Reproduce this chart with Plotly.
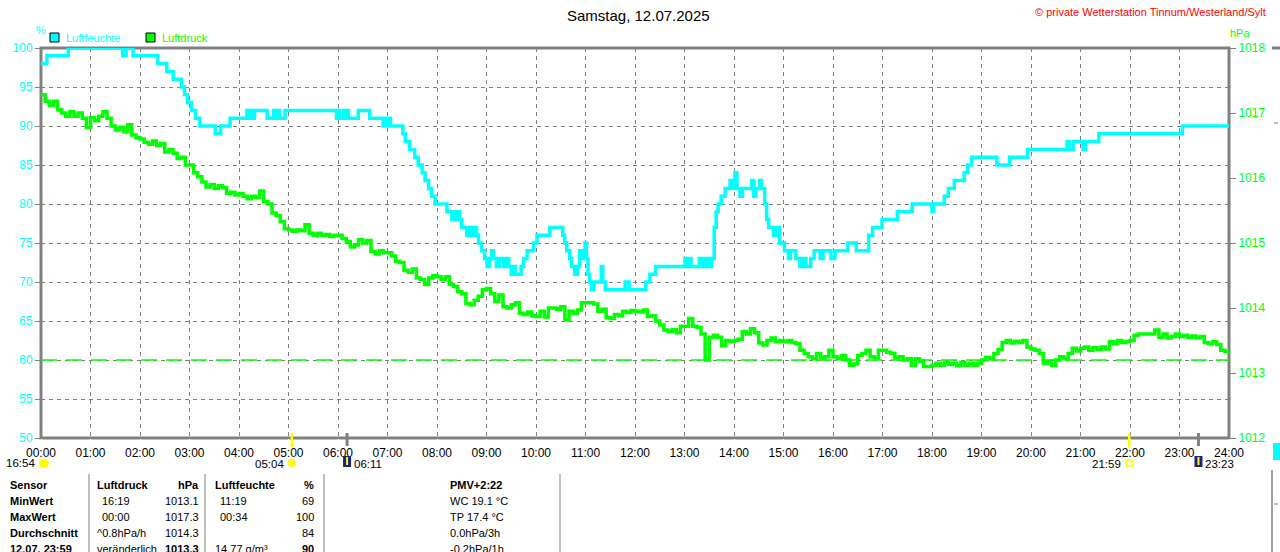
import plotly.graph_objects as go

# ---------------- data ----------------
hour_labels = ["00:00", "01:00", "02:00", "03:00", "04:00", "05:00", "06:00", "07:00",
               "08:00", "09:00", "10:00", "11:00", "12:00", "13:00", "14:00", "15:00",
               "16:00", "17:00", "18:00", "19:00", "20:00", "21:00", "22:00", "23:00", "24:00"]
hum_ticks = [50, 55, 60, 65, 70, 75, 80, 85, 90, 95, 100]
press_ticks = [1012, 1013, 1014, 1015, 1016, 1017, 1018]

# humidity (step changes): time in hours, value in %
hum_time = [0.00, 0.12, 0.55, 1.65, 1.68, 1.70, 1.72, 1.86, 2.36, 2.54, 2.67, 2.84, 2.90, 2.96,
            3.04, 3.12, 3.21, 3.52, 3.63, 3.82, 4.16, 4.19, 4.24, 4.27, 4.31, 4.57, 4.70, 4.73,
            4.79, 4.82, 4.93, 5.97, 6.00, 6.03, 6.11, 6.14, 6.16, 6.21, 6.41, 6.64, 6.91, 6.94,
            6.97, 7.02, 7.06, 7.31, 7.36, 7.45, 7.55, 7.62, 7.70, 7.76, 7.83, 7.89, 7.96, 8.20,
            8.30, 8.33, 8.38, 8.42, 8.46, 8.50, 8.60, 8.63, 8.70, 8.74, 8.80, 8.84, 8.90, 8.96,
            9.01, 9.06, 9.10, 9.14, 9.20, 9.26, 9.34, 9.40, 9.45, 9.50, 9.55, 9.58, 9.70, 9.75,
            9.82, 9.88, 9.95, 10.02, 10.28, 10.54, 10.58, 10.62, 10.68, 10.72, 10.78, 10.84,
            10.88, 10.92, 10.99, 11.02, 11.05, 11.08, 11.12, 11.17, 11.32, 11.35, 11.40, 11.80,
            11.88, 12.22, 12.30, 12.42, 13.01, 13.04, 13.10, 13.13, 13.30, 13.35, 13.42, 13.48,
            13.55, 13.60, 13.64, 13.68, 13.74, 13.82, 13.92, 13.97, 14.02, 14.06, 14.12, 14.17,
            14.36, 14.40, 14.44, 14.52, 14.55, 14.62, 14.66, 14.70, 14.80, 14.84, 14.92, 15.02,
            15.10, 15.14, 15.25, 15.33, 15.40, 15.45, 15.55, 15.62, 15.74, 15.80, 15.96, 16.04,
            16.30, 16.47, 16.72, 16.80, 16.99, 17.30, 17.60, 18.00, 18.03, 18.25, 18.33, 18.45,
            18.65, 18.72, 18.80, 19.31, 19.57, 19.93, 20.73, 20.77, 20.85, 21.05, 21.10, 21.37,
            23.06, 24.00]
hum_value = [98, 99, 100, 99, 100, 99, 100, 99, 98, 97, 96, 95, 94, 93,
             92, 91, 90, 89, 90, 91, 92, 91, 92, 91, 92, 91, 92, 91,
             92, 91, 92, 91, 92, 91, 92, 91, 92, 91, 92, 91, 90, 91,
             90, 91, 90, 89, 88, 87, 86, 85, 84, 83, 82, 81, 80, 79,
             78, 79, 78, 79, 78, 77, 76, 77, 76, 77, 76, 75, 74, 73,
             72, 73, 74, 73, 72, 73, 72, 73, 72, 71, 72, 71, 72, 73,
             74, 74, 75, 76, 77, 76, 75, 74, 73, 72, 71, 72,
             74, 73, 75, 73, 71, 70, 69, 70, 72, 70, 69, 70,
             69, 70, 71, 72, 73, 72, 73, 72, 73, 72, 73, 72,
             73, 77, 79, 80, 81, 82, 83, 82, 84, 82, 81, 82,
             83, 81, 82, 83, 82, 80, 78, 77, 76, 77, 75, 74,
             73, 74, 73, 72, 73, 72, 73, 74, 73, 74, 73, 74,
             75, 74, 76, 77, 78, 79, 80, 79, 80, 81, 82, 83,
             84, 85, 86, 85, 86, 87, 88, 87, 88, 87, 88, 89,
             90, 90]

# air pressure every 5 minutes (hPa), 00:00 .. 24:00
press_value = [
    1017.28, 1017.18, 1017.12, 1017.18, 1017.05, 1017.00, 1016.95, 1017.02, 1016.95, 1017.00, 1016.92, 1016.78,
    1016.93, 1016.88, 1016.95, 1017.02, 1016.92, 1016.80, 1016.74, 1016.78, 1016.71, 1016.82, 1016.66, 1016.62,
    1016.60, 1016.55, 1016.52, 1016.57, 1016.50, 1016.53, 1016.40, 1016.44, 1016.38, 1016.30, 1016.32, 1016.20,
    1016.20, 1016.08, 1016.02, 1015.94, 1015.86, 1015.90, 1015.84, 1015.88, 1015.85, 1015.76, 1015.78, 1015.74,
    1015.76, 1015.72, 1015.68, 1015.72, 1015.70, 1015.80, 1015.64, 1015.60, 1015.46, 1015.42, 1015.33, 1015.22,
    1015.20, 1015.18, 1015.20, 1015.19, 1015.28, 1015.15, 1015.12, 1015.15, 1015.12, 1015.13, 1015.10, 1015.12,
    1015.12, 1015.07, 1015.02, 1014.94, 1014.97, 1015.05, 1015.00, 1015.04, 1014.87, 1014.83, 1014.88, 1014.85,
    1014.85, 1014.80, 1014.72, 1014.70, 1014.58, 1014.55, 1014.60, 1014.46, 1014.44, 1014.36, 1014.46, 1014.50,
    1014.48, 1014.44, 1014.48, 1014.36, 1014.33, 1014.25, 1014.22, 1014.07, 1014.05, 1014.12, 1014.18, 1014.28,
    1014.30, 1014.22, 1014.10, 1014.20, 1014.02, 1014.00, 1014.05, 1014.08, 1013.92, 1013.90, 1013.94, 1013.88,
    1013.87, 1013.95, 1013.86, 1014.00, 1014.00, 1013.98, 1014.02, 1013.82, 1013.95, 1013.92, 1013.97, 1014.08,
    1014.08, 1014.08, 1014.06, 1013.95, 1013.98, 1013.85, 1013.84, 1013.90, 1013.88, 1013.95, 1013.93, 1013.96,
    1013.95, 1013.94, 1013.97, 1013.87, 1013.88, 1013.80, 1013.74, 1013.66, 1013.64, 1013.67, 1013.62, 1013.72,
    1013.72, 1013.84, 1013.72, 1013.70, 1013.60, 1013.20, 1013.55, 1013.58, 1013.55, 1013.42, 1013.50, 1013.48,
    1013.50, 1013.52, 1013.64, 1013.60, 1013.68, 1013.62, 1013.46, 1013.43, 1013.50, 1013.54, 1013.48, 1013.50,
    1013.48, 1013.50, 1013.47, 1013.45, 1013.35, 1013.30, 1013.25, 1013.22, 1013.30, 1013.23, 1013.25, 1013.35,
    1013.25, 1013.22, 1013.27, 1013.20, 1013.12, 1013.14, 1013.27, 1013.30, 1013.35, 1013.25, 1013.23, 1013.35,
    1013.35, 1013.32, 1013.30, 1013.23, 1013.25, 1013.20, 1013.22, 1013.12, 1013.22, 1013.18, 1013.10, 1013.10,
    1013.12, 1013.15, 1013.12, 1013.16, 1013.13, 1013.15, 1013.11, 1013.16, 1013.12, 1013.15, 1013.12, 1013.15,
    1013.20, 1013.24, 1013.22, 1013.30, 1013.36, 1013.47, 1013.50, 1013.46, 1013.49, 1013.47, 1013.50, 1013.40,
    1013.37, 1013.35, 1013.30, 1013.15, 1013.18, 1013.12, 1013.20, 1013.25, 1013.22, 1013.30, 1013.38, 1013.34,
    1013.38, 1013.40, 1013.35, 1013.39, 1013.36, 1013.40, 1013.37, 1013.48, 1013.45, 1013.50, 1013.47, 1013.48,
    1013.50, 1013.58, 1013.60, 1013.60, 1013.60, 1013.60, 1013.66, 1013.55, 1013.60, 1013.54, 1013.56, 1013.60,
    1013.56, 1013.58, 1013.55, 1013.57, 1013.54, 1013.56, 1013.47, 1013.45, 1013.48, 1013.44, 1013.35, 1013.33,
    1013.30]
press_time = [i * 5 / 60 for i in range(len(press_value))]
press_ref = 1013.2

# sun / moon events (hours)
events = [("16:54", 0.0), ("05:04", 5.0667), ("06:11", 6.1833), ("21:59", 21.9833), ("23:23", 23.3833)]

table_rows = [
    ["Sensor", "Luftdruck", "hPa", "Luftfeuchte", "%", "PMV+2:22"],
    ["MinWert", "16:19", "1013.1", "11:19", "69", "WC 19.1 °C"],
    ["MaxWert", "00:00", "1017.3", "00:34", "100", "TP 17.4 °C"],
    ["Durchschnitt", "^0.8hPa/h", "1014.3", "", "84", "0.0hPa/3h"],
    ["12.07. 23:59", "veränderlich", "1013.3", "14.77 g/m³", "90", "-0.2hPa/1h"],
]

# ---------------- layout helpers ----------------
W, H = 1280, 552
L, R, T, B = 41, 1229, 48, 438
CYAN = "#00ffff"
GREEN = "#00ff00"
GRAY = "#808080"
FONT = "Liberation Sans"


def pxx(px):
    return (px - L) / (R - L)


def pxy(py):
    return (B - py) / (B - T)


annotations = []
shapes = []


def text(t, px, py, color="black", size=12, bold=False, anchor="left"):
    if bold:
        t = "<b>" + t + "</b>"
    annotations.append(dict(text=t, x=pxx(px), y=pxy(py), xref="paper", yref="paper",
                            xanchor=anchor, yanchor="middle", showarrow=False,
                            font=dict(family=FONT, size=size, color=color)))


def line(x0, y0, x1, y1, color=GRAY, width=1):
    shapes.append(dict(type="line", xref="paper", yref="paper", x0=pxx(x0), y0=pxy(y0),
                       x1=pxx(x1), y1=pxy(y1), line=dict(color=color, width=width)))


def rect(x0, y0, x1, y1, fill, color=None, width=0):
    shapes.append(dict(type="rect", xref="paper", yref="paper", x0=pxx(x0), y0=pxy(y0),
                       x1=pxx(x1), y1=pxy(y1), fillcolor=fill,
                       line=dict(color=color or fill, width=width)))


fig = go.Figure()
fig.add_trace(go.Scatter(x=hum_time, y=hum_value, mode="lines", line_shape="hv",
                         line=dict(color=CYAN, width=3.5), name="Luftfeuchte", yaxis="y"))
fig.add_trace(go.Scatter(x=press_time, y=press_value, mode="lines", line_shape="hv",
                         line=dict(color=GREEN, width=3.5), name="Luftdruck", yaxis="y2"))

# reference dashed line for pressure
shapes.append(dict(type="line", xref="paper", yref="y2", x0=0, x1=1, y0=press_ref, y1=press_ref,
                   line=dict(color=GREEN, width=1.5, dash="16px,9px"), layer="above"))

# frame (below the traces so the 100 % line stays visible)
shapes.append(dict(type="rect", xref="paper", yref="paper", x0=0, y0=0, x1=1, y1=1,
                   line=dict(color=GRAY, width=3), layer="below"))

# title, credits, units, legend
text("Samstag, 12.07.2025", 638, 15, size=15, anchor="center")
text("© private Wetterstation Tinnum/Westerland/Sylt", 1268, 12, color="#ff0000", size=11, anchor="right")
text("%", 41, 30, color=CYAN, size=11, anchor="center")
text("hPa", 1240, 33, color=GREEN, size=11, anchor="center")
rect(50, 33, 59, 42, CYAN, "black", 1)
text("Luftfeuchte", 64, 38, color=CYAN, size=11)
rect(146, 33, 155, 42, GREEN, "black", 1)
text("Luftdruck", 160, 38, color=GREEN, size=11)

# sun / moon markers below axis
for lab, hr in events:
    if lab == "16:54":
        shapes.append(dict(type="circle", xref="paper", yref="paper", x0=pxx(39), x1=pxx(49),
                           y0=pxy(468), y1=pxy(459), fillcolor="#ffff00", line=dict(color="#ffff00", width=0)))
        text(lab, 37, 463, size=11.5, anchor="right")
        continue
    xp = L + hr * (R - L) / 24
    if lab in ("05:04", "21:59"):
        shapes.append(dict(type="line", xref="x", yref="paper", x0=hr, x1=hr, y0=pxy(433), y1=pxy(447),
                           line=dict(color="#ffff00", width=2.5)))
        if lab == "05:04":
            shapes.append(dict(type="circle", xref="paper", yref="paper", x0=pxx(xp - 4), x1=pxx(xp + 4),
                               y0=pxy(467), y1=pxy(459), fillcolor="#ffff00", line=dict(color="#ffee66", width=1)))
        else:
            rect(xp - 3, 460, xp + 3, 466, "white", "#ffff00", 1.5)
        text(lab, xp - 6, 464, size=11.5, anchor="right")
    else:
        shapes.append(dict(type="line", xref="x", yref="paper", x0=hr, x1=hr, y0=pxy(433), y1=pxy(446),
                           line=dict(color=GRAY, width=3)))
        rect(xp - 4, 456, xp + 4, 467, "#1a237e")
        line(xp, 457, xp, 465, "#ffff00", 2)
        text(lab, xp + 5, 464, size=11.5)

# table
col_pos = [(8, "left"), (95, "left"), (201, "right"), (213, "left"), (316, "right"), (448, "left")]
row_y = [485, 501, 517, 533, 549]
for r, row in enumerate(table_rows):
    for c, val in enumerate(row):
        if not val:
            continue
        px, anc = col_pos[c]
        if r in (1, 2) and c in (1, 3):
            px += 5
        bold = (r == 0) or c == 0 or (r == 4 and c in (2, 4))
        text(val, px, row_y[r], size=11, bold=bold, anchor=anc)
for vx in (89, 205, 324, 560):
    line(vx, 474, vx, 552, GRAY, 1)

# right-edge remnants of neighbouring chart
line(1272, 470, 1272, 552, GRAY, 1.5)
line(1272, 48, 1280, 48, GRAY, 3)
line(1274, 123, 1278, 123, GRAY, 1)
line(1274, 504, 1278, 504, GRAY, 1)
rect(1273, 443, 1280, 460, CYAN)

fig.update_layout(
    width=W, height=H,
    margin=dict(l=L, r=W - R, t=T, b=H - B, pad=0),
    paper_bgcolor="white", plot_bgcolor="white",
    showlegend=False,
    font=dict(family=FONT, size=12, color="black"),
    xaxis=dict(range=[0, 24], tickvals=list(range(25)), ticktext=hour_labels,
               showgrid=True, gridcolor=GRAY, griddash="4px,4px", gridwidth=1,
               zeroline=False, showline=False, ticks="outside", ticklen=4, tickcolor="white",
               tickfont=dict(family=FONT, size=12, color="black"), fixedrange=True),
    yaxis=dict(range=[50, 100], tickvals=hum_ticks, showgrid=True, gridcolor=GRAY,
               griddash="4px,4px", gridwidth=1, zeroline=False, showline=False,
               ticks="outside", ticklen=5, tickcolor=GRAY,
               tickfont=dict(family=FONT, size=12, color=CYAN)),
    yaxis2=dict(range=[1012, 1018], tickvals=press_ticks, overlaying="y", side="right",
                showgrid=False, zeroline=False, showline=False, ticks="outside", ticklen=6,
                tickcolor=GRAY, tickfont=dict(family=FONT, size=12, color=GREEN)),
    annotations=annotations, shapes=shapes,
)

fig.write_html("out.html", config={"displayModeBar": False},
               post_script="document.body.style.margin='0';document.body.style.overflow='hidden';")
